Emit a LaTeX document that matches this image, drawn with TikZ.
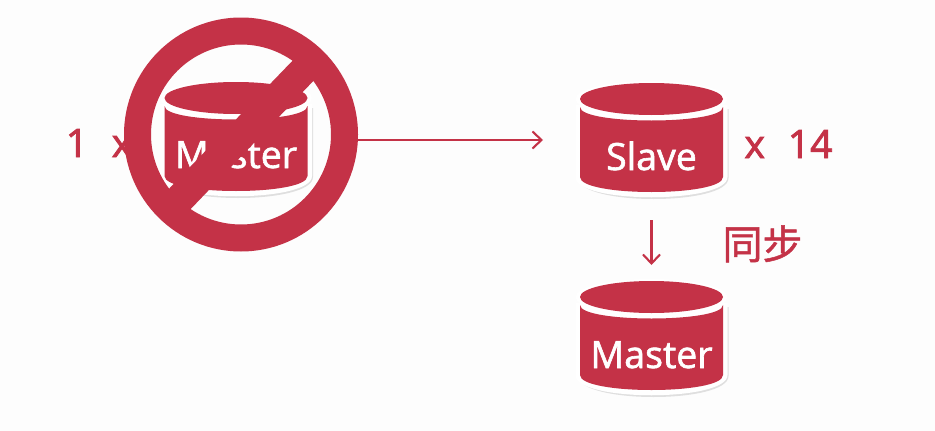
\documentclass[tikz,border=0pt]{standalone}
\usepackage{fontspec}
\setmainfont{Open Sans}
\newfontfamily\labelfont[FakeBold=1.6]{Open Sans}
\newfontfamily\redfont[FakeBold=2.2]{Open Sans}
\newfontfamily\cjkfont[FakeBold=1.2]{Noto Sans CJK SC}
\usetikzlibrary{arrows.meta}
\definecolor{dbred}{HTML}{C43247}
\definecolor{pagebg}{HTML}{FDFDFD}
\tikzset{
  conn/.style={draw=dbred,line width=2.1pt,-{Straight Barb[length=9pt,width=17pt,line width=2.1pt]}},
  dblabel/.style={text=white,font=\fontsize{37.5}{37.5}\selectfont\labelfont,anchor=base,inner sep=0pt},
  redlabel/.style={text=dbred,font=\fontsize{39}{39}\selectfont\redfont,anchor=base,inner sep=0pt},
  dbbox/.style={minimum width=143pt,minimum height=104pt,inner sep=0pt,outer sep=0pt},
}
\newcommand{\dbcyl}[5]{% name, cx, cy (top ellipse), label, label baseline offset
  \begin{scope}[shift={(#2,#3)}]
    \fill[black!30,opacity=.4] (-73,10) -- (77,10) -- (77,79) .. controls (77,107) and (-73,107) .. (-73,79) -- cycle;
    \fill[white] (-76,6) -- (76,6) -- (76,78) .. controls (76,105) and (-76,105) .. (-76,78) -- cycle;
    \fill[white] (0,0) ellipse [x radius=76,y radius=18];
    \fill[dbred] (0,0) ellipse [x radius=71.5,y radius=16];
    \fill[dbred] (-71.5,8) .. controls (-71.5,26) and (71.5,26) .. (71.5,8)
      -- (71.5,78) .. controls (71.5,98) and (-71.5,98) .. (-71.5,78) -- cycle;
    \node[dbbox] (#1box) at (0,41) {};
    \node[dblabel] (#1) at (0,#5) {#4};
  \end{scope}
}
\begin{document}
\begin{tikzpicture}[x=1pt,y=-1pt]
  \path[use as bounding box,fill=pagebg] (0,0) rectangle (935,431);
  \node[redlabel] (one) at (77,157) {1};
  \node[redlabel] (times1) at (122,157) {x};
  \dbcyl{lmaster}{236}{98}{Master}{70}
  \dbcyl{slave}{651.5}{99}{Slave}{71}
  \dbcyl{rmaster}{651.5}{297}{Master}{71}
  \node[redlabel] (times14) at (788.5,158) {x\hspace{23pt}14};
  \node[text=dbred,font=\fontsize{40}{40}\selectfont\cjkfont,anchor=base,inner sep=0pt] (sync) at (762.5,259) {同步};
  % prohibition sign
  \node[circle,minimum size=234pt,inner sep=0pt,outer sep=0pt] (nosign) at (241,134.5) {};
  \fill[dbred,even odd rule] (nosign.center) circle [radius=117] (nosign.center) circle [radius=90];
  \fill[dbred] (163,195) -- (299,54) -- (320,74) -- (185,215) -- cycle;
  % connectors
  \draw[conn,shorten >=37pt] (nosign.east |- slavebox.west) -- (slavebox.west);
  \draw[conn,shorten <=28pt,shorten >=21pt] (slavebox.south) -- (rmasterbox.north);
\end{tikzpicture}
\end{document}
